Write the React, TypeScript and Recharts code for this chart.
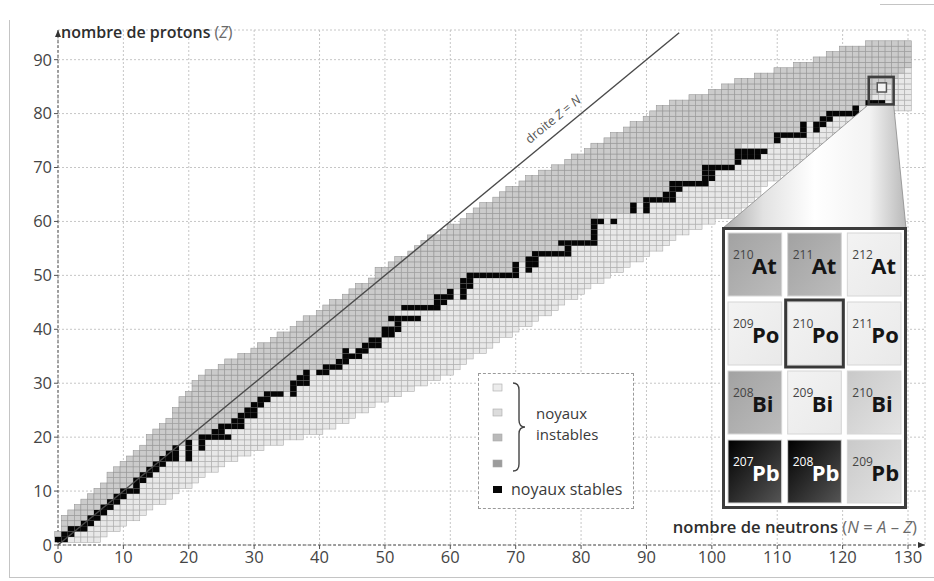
import React from 'react';
import { ScatterChart, Scatter, XAxis, YAxis, CartesianGrid, ReferenceLine, ReferenceArea, ReferenceDot, Legend } from 'recharts';

const W = 934;
const H = 581;
const Y_AXIS_W = 58;
const X_AXIS_H = 36;
const MARGIN = { top: 30, right: 9, bottom: 0, left: 0 };
const X_MAX = 132.6;
const Y_MAX = 95.5;
const CELL_W = (W - Y_AXIS_W - MARGIN.right) / X_MAX;
const CELL_H = (H - MARGIN.top - X_AXIS_H) / Y_MAX;
const FONT = '"Open Sans", "Noto Sans", sans-serif';

const INSET = { x: 722, y: 227, w: 185, h: 282 };

const xTicks = [0, 10, 20, 30, 40, 50, 60, 70, 80, 90, 100, 110, 120, 130];
const yTicks = [0, 10, 20, 30, 40, 50, 60, 70, 80, 90];

// lowest / highest neutron number of known nuclides for Z = 1, 2, 3 ...
const rowNMin = [
  0, 0, 1, 1, 1, 2, 3, 4, 5, 6,
  7, 8, 8, 9, 10, 11, 12, 13, 14, 14,
  15, 16, 17, 18, 18, 19, 19, 20, 21, 21,
  22, 23, 25, 26, 28, 30, 31, 33, 34, 36,
  37, 38, 40, 41, 42, 44, 45, 46, 48, 49,
  49, 51, 52, 54, 55, 56, 57, 59, 60, 62,
  63, 64, 65, 67, 68, 69, 71, 72, 74, 76,
  78, 79, 81, 82, 84, 85, 87, 88, 90, 91,
  92, 94, 97, 100, 102, 104, 107, 110, 113, 116,
  118, 120, 124,
];
const rowNMax = [
  6, 7, 9, 10, 12, 13, 14, 16, 17, 18,
  20, 21, 22, 24, 25, 27, 29, 31, 34, 37,
  40, 42, 44, 45, 47, 48, 50, 52, 54, 56,
  58, 60, 61, 62, 63, 65, 66, 67, 69, 70,
  72, 73, 75, 76, 77, 79, 80, 81, 83, 84,
  86, 87, 89, 90, 92, 93, 94, 96, 98, 100,
  103, 104, 105, 106, 107, 107, 108, 110, 111, 113,
  114, 115, 116, 118, 119, 120, 121, 122, 124, 125,
  130, 130, 130, 130, 130, 130, 130, 130, 130, 130,
  130, 130, 130,
];

// stable nuclides: [Z, first N, last N]
const stableRuns: [number, number, number][] = [
  [1, 0, 1], [2, 1, 2], [3, 2, 4], [4, 4, 5], [5, 5, 6], [6, 6, 7], [7, 7, 8], [8, 8, 9],
  [9, 9, 10], [10, 10, 12], [11, 12, 12], [12, 12, 13], [13, 13, 14], [14, 14, 15], [15, 15, 16],
  [16, 16, 18], [16, 20, 20], [17, 17, 18], [17, 20, 20], [18, 18, 18], [18, 20, 20], [18, 22, 22],
  [19, 20, 20], [19, 22, 22], [20, 22, 26], [21, 24, 25], [22, 25, 28], [23, 27, 28], [24, 28, 30],
  [25, 29, 30], [26, 30, 31], [27, 31, 32], [28, 32, 34], [28, 36, 36], [29, 36, 36], [30, 36, 38],
  [31, 37, 38], [32, 38, 38], [32, 40, 41], [33, 41, 43], [34, 43, 44], [35, 44, 46], [36, 44, 44],
  [36, 46, 47], [37, 47, 49], [38, 48, 49], [39, 50, 51], [40, 50, 52], [41, 52, 52], [42, 51, 55],
  [44, 53, 58], [45, 58, 59], [46, 58, 60], [46, 62, 62], [47, 60, 60], [47, 62, 62], [48, 62, 63],
  [49, 62, 63], [50, 63, 70], [51, 70, 70], [51, 72, 72], [52, 70, 70], [52, 72, 73], [53, 72, 73],
  [54, 73, 78], [55, 78, 78], [56, 77, 82], [57, 82, 82], [58, 82, 82], [59, 82, 82], [60, 82, 83],
  [60, 85, 85], [62, 88, 88], [62, 90, 90], [63, 88, 88], [63, 90, 90], [64, 90, 94], [65, 93, 94],
  [66, 94, 95], [67, 94, 99], [68, 99, 100], [69, 99, 100], [70, 99, 103], [71, 104, 104],
  [72, 104, 107], [73, 104, 108], [75, 110, 110], [76, 110, 114], [77, 114, 114], [77, 116, 116],
  [78, 114, 114], [78, 116, 117], [79, 117, 118], [80, 118, 122], [81, 122, 122], [82, 124, 126],
];

// zoomed panel: Po-210 and its neighbours
const insetZ = [85, 84, 83, 82];
const insetSymbols = ['At', 'Po', 'Bi', 'Pb'];
const insetN = [125, 126, 127];
const insetTones = [
  ['mid', 'mid', 'pale'],
  ['pale', 'pale', 'pale'],
  ['mid', 'pale', 'light'],
  ['stable', 'stable', 'light'],
];
const highlighted = { z: 84, n: 126 };

const legendSwatches = ['#ececec', '#dcdcdc', '#bababa', '#9c9c9c'];

type Cell = { n: number; z: number; side?: string };

const stableCells: Cell[] = stableRuns.flatMap(([z, a, b]) =>
  Array.from({ length: b - a + 1 }, (_, k) => ({ n: a + k, z }))
);
const stableKeys = new Set(stableCells.map(c => `${c.n}:${c.z}`));

const unstableCells: Cell[] = [];
let split = 0;
rowNMin.forEach((nMin, i) => {
  const z = i + 1;
  const first = stableCells.find(c => c.z === z);
  split = first ? first.n : split + 1;
  for (let n = nMin; n <= rowNMax[i]; n++) {
    if (!stableKeys.has(`${n}:${z}`)) unstableCells.push({ n, z, side: n < split ? 'p' : 'n' });
  }
});

const insetCells = insetZ.flatMap((z, r) =>
  insetN.map((n, c) => ({ n, z, a: z + n, sym: insetSymbols[r], tone: insetTones[r][c] }))
);

const UnstableCell = (p: any) => {
  const dark = p.payload.side === 'p';
  return (
    <rect
      x={p.cx - CELL_W / 2}
      y={p.cy - CELL_H / 2}
      width={CELL_W}
      height={CELL_H}
      fill={dark ? '#cbcbcb' : '#e8e8e8'}
      stroke={dark ? '#979797' : '#acacac'}
      strokeWidth={0.6}
    />
  );
};

const StableCell = (p: any) => (
  <rect x={p.cx - CELL_W / 2} y={p.cy - CELL_H / 2} width={CELL_W} height={CELL_H} fill="#050505" />
);

const YTitle = (props: any) => {
  const { x, y, width } = props.viewBox;
  return (
    <text x={x + width + 3} y={y + 8} fontSize={16} fill="#2e2e2e" fontFamily={FONT}>
      <tspan fontWeight={600}>nombre de protons</tspan>
      <tspan fill="#6a6a6a"> (</tspan>
      <tspan fill="#6a6a6a" fontStyle="italic">Z</tspan>
      <tspan fill="#6a6a6a">)</tspan>
    </text>
  );
};

const XTitle = (props: any) => {
  const { x, y, width } = props.viewBox;
  return (
    <text x={x + width - 8} y={y - 12} fontSize={16.6} fill="#2e2e2e" textAnchor="end" fontFamily={FONT}>
      <tspan fontWeight={600}>nombre de neutrons</tspan>
      <tspan fill="#6a6a6a"> (</tspan>
      <tspan fill="#6a6a6a" fontStyle="italic">N</tspan>
      <tspan fill="#6a6a6a"> = </tspan>
      <tspan fill="#6a6a6a" fontStyle="italic">A</tspan>
      <tspan fill="#6a6a6a"> – </tspan>
      <tspan fill="#6a6a6a" fontStyle="italic">Z</tspan>
      <tspan fill="#6a6a6a">)</tspan>
    </text>
  );
};

const LineLabel = (props: any) => {
  const { x, y } = props.viewBox;
  const angle = (Math.atan2(CELL_H, CELL_W) * 180) / Math.PI;
  return (
    <text
      x={x}
      y={y}
      dy={-9}
      textAnchor="middle"
      fontSize={12.5}
      fill="#555"
      fontFamily={FONT}
      transform={`rotate(${-angle} ${x} ${y})`}
    >
      droite <tspan fontStyle="italic">Z</tspan> = <tspan fontStyle="italic">N</tspan>
    </text>
  );
};

const ArrowRight = (p: any) => (
  <path d={`M${p.cx},${p.cy} l-7,-3 l0,6 z`} fill="#333" />
);
const ArrowUp = (p: any) => (
  <path d={`M${p.cx},${p.cy} l-3,7 l6,0 z`} fill="#333" />
);

const ZoomBox = (p: any) => {
  const { x, y, width, height } = p;
  const bx = x + width;
  const by = y + height;
  return (
    <g>
      <defs>
        <linearGradient id="wedgeFill" x1="0" y1="0" x2="1" y2="0">
          <stop offset="0" stopColor="#a9a9a9" />
          <stop offset="0.22" stopColor="#e2e2e2" />
          <stop offset="0.5" stopColor="#ffffff" />
          <stop offset="0.8" stopColor="#f3f3f3" />
          <stop offset="1" stopColor="#b9b9b9" />
        </linearGradient>
      </defs>
      <polygon
        points={`${x},${by} ${INSET.x + 1},${INSET.y + 1} ${INSET.x + INSET.w - 1},${INSET.y + 1} ${bx},${by}`}
        fill="url(#wedgeFill)"
        stroke="#8a8a8a"
        strokeWidth={0.8}
      />
      <rect x={x} y={y} width={width} height={height} fill="none" stroke="#3f3f3f" strokeWidth={2.6} />
    </g>
  );
};

const InnerBox = (p: any) => (
  <rect x={p.x} y={p.y} width={p.width} height={p.height} fill="#f3f3f3" stroke="#555" strokeWidth={1.5} />
);

const LegendBox = () => (
  <div style={{ width: 156, height: 136, border: '1px dashed #9a9a9a', boxSizing: 'border-box', background: '#fff' }}>
    <svg width={154} height={134} style={{ display: 'block' }}>
      {legendSwatches.map((c, i) => (
        <rect key={c} x={14} y={[10, 35, 60, 86][i]} width={9} height={7} fill={c} stroke="#a8a8a8" strokeWidth={0.6} />
      ))}
      <rect x={14} y={112} width={9} height={7} fill="#060606" />
      <path
        d="M34,9 Q40,9 40,16 L40,46 Q40,53 46,53 Q40,53 40,60 L40,90 Q40,97 34,97"
        fill="none"
        stroke="#444"
        strokeWidth={1.4}
      />
      <text x={57} y={45} fontSize={15} fill="#3a3a3a" fontFamily={FONT}>noyaux</text>
      <text x={57} y={66} fontSize={15} fill="#3a3a3a" fontFamily={FONT}>instables</text>
      <text x={32} y={121} fontSize={16} fill="#3a3a3a" fontFamily={FONT}>noyaux stables</text>
    </svg>
  </div>
);

const TONES: Record<string, { from: string; to: string; text: string; mass: string }> = {
  mid: { from: '#a2a2a2', to: '#bcbcbc', text: '#151515', mass: '#444' },
  pale: { from: '#f3f3f3', to: '#e9e9e9', text: '#151515', mass: '#444' },
  light: { from: '#c9c9c9', to: '#e4e4e4', text: '#151515', mass: '#444' },
  stable: { from: '#000000', to: '#555555', text: '#ffffff', mass: '#ffffff' },
};

const INSET_INNER_W = INSET.w - 6;
const INSET_INNER_H = INSET.h - 6;
const IN_CW = INSET_INNER_W / 3;
const IN_CH = INSET_INNER_H / 4;

const NuclideCell = (p: any) => {
  const { cx, cy, payload } = p;
  const tone = TONES[payload.tone];
  const left = cx - IN_CW / 2;
  const top = cy - IN_CH / 2;
  const isHi = payload.z === highlighted.z && payload.n === highlighted.n;
  return (
    <g>
      <rect x={left + 3} y={top + 3} width={IN_CW - 6} height={IN_CH - 6} fill={`url(#tone-${payload.tone})`} stroke="#d6d6d6" strokeWidth={1} />
      {isHi && <rect x={left + 1} y={top + 1} width={IN_CW - 2} height={IN_CH - 2} fill="none" stroke="#383838" strokeWidth={3} />}
      <text x={left + 8} y={cy - 6} fontSize={12} fill={tone.mass} fontFamily={FONT}>{payload.a}</text>
      <text x={left + 27} y={cy + 9} fontSize={22} fontWeight={700} fill={tone.text} fontFamily={FONT}>{payload.sym}</text>
    </g>
  );
};

const NuclideInset = () => (
  <div
    style={{
      position: 'absolute',
      left: INSET.x,
      top: INSET.y,
      width: INSET.w,
      height: INSET.h,
      border: '3px solid #3c3c3c',
      boxSizing: 'border-box',
      background: '#fff',
    }}
  >
    <ScatterChart width={INSET_INNER_W} height={INSET_INNER_H} margin={{ top: 0, right: 0, bottom: 0, left: 0 }}>
      <defs>
        {Object.entries(TONES).map(([k, t]) => (
          <linearGradient key={k} id={`tone-${k}`} x1="0" y1="0" x2="1" y2="1">
            <stop offset="0" stopColor={t.from} />
            <stop offset="1" stopColor={t.to} />
          </linearGradient>
        ))}
      </defs>
      <XAxis type="number" dataKey="n" domain={[124.5, 127.5]} hide />
      <YAxis type="number" dataKey="z" domain={[81.5, 85.5]} hide />
      <Scatter data={insetCells} shape={NuclideCell} isAnimationActive={false} />
    </ScatterChart>
  </div>
);

const SegreChart = () => (
  <div style={{ position: 'absolute', left: 0, top: 0 }}>
    <ScatterChart width={W} height={H} margin={MARGIN}>
      <CartesianGrid stroke="#c6c6c6" strokeDasharray="2 2" />
      <XAxis
        type="number"
        dataKey="n"
        domain={[0, X_MAX]}
        ticks={xTicks}
        height={X_AXIS_H}
        tick={{ fill: '#454545', fontSize: 16.5 }}
        tickSize={4}
        tickLine={{ stroke: '#555' }}
        axisLine={{ stroke: '#555', strokeDasharray: '3 2' }}
        label={XTitle}
      />
      <YAxis
        type="number"
        dataKey="z"
        domain={[0, Y_MAX]}
        ticks={yTicks}
        width={Y_AXIS_W}
        tick={{ fill: '#454545', fontSize: 16.5 }}
        tickSize={4}
        tickLine={{ stroke: '#555' }}
        axisLine={{ stroke: '#555', strokeDasharray: '3 2' }}
        label={YTitle}
      />
      <Scatter data={unstableCells} shape={UnstableCell} isAnimationActive={false} />
      <Scatter data={stableCells} shape={StableCell} isAnimationActive={false} />
      <ReferenceLine segment={[{ x: 0, y: 0 }, { x: 95, y: 95 }]} stroke="#4a4a4a" strokeWidth={1.4} zIndex={900} />
      <ReferenceDot x={77} y={77} r={0} label={LineLabel} zIndex={900} />
      <ReferenceArea x1={124} x2={127.8} y1={81.7} y2={86.8} shape={ZoomBox} zIndex={900} />
      <ReferenceArea x1={125.3} x2={126.7} y1={84} y2={85.7} shape={InnerBox} zIndex={901} />
      <ReferenceDot x={X_MAX} y={0} r={0} shape={ArrowRight} zIndex={900} ifOverflow="visible" />
      <ReferenceDot x={0} y={Y_MAX} r={0} shape={ArrowUp} zIndex={900} ifOverflow="visible" />
      <Legend
        content={LegendBox}
        layout="horizontal"
        verticalAlign="middle"
        align="center"
        wrapperStyle={{ left: 478, top: 373, width: 156, height: 136 }}
      />
    </ScatterChart>
  </div>
);

export default function App() {
  return (
    <div style={{ position: 'absolute', left: 0, top: 0, width: W, height: H, background: '#fff', fontFamily: FONT }}>
      <div style={{ position: 'absolute', left: 9, top: 20, width: 1, height: 558, background: '#c4c4c4' }} />
      <div style={{ position: 'absolute', left: 9, top: 577, width: 925, height: 1, background: '#c4c4c4' }} />
      <div style={{ position: 'absolute', left: 880, top: 4, width: 54, height: 1, background: '#c4c4c4' }} />
      <SegreChart />
      <NuclideInset />
    </div>
  );
}
